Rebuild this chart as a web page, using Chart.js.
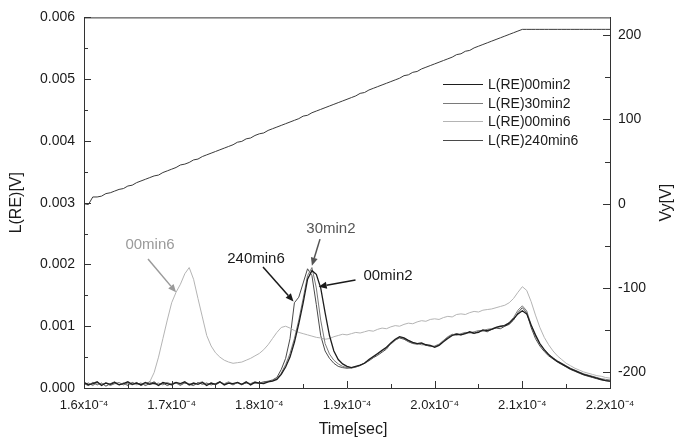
<!DOCTYPE html>
<html>
<head>
<meta charset="utf-8">
<script src="https://cdn.jsdelivr.net/npm/chart.js@4/dist/chart.umd.min.js"></script>
<style>
  html,body{margin:0;padding:0;background:#fff;}
  #wrap{width:676px;height:442px;}
</style>
</head>
<body>
<div id="wrap"><canvas id="c" width="676" height="442"></canvas></div>
<script>
// time axis in units of 1e-4 s
const timeE4 = [
  1.600,1.605,1.610,1.615,1.620,1.625,1.630,1.635,1.640,1.645,
  1.650,1.655,1.660,1.665,1.670,1.675,1.680,1.685,1.690,1.695,
  1.700,1.705,1.710,1.715,1.720,1.725,1.730,1.735,1.740,1.745,
  1.750,1.755,1.760,1.765,1.770,1.775,1.780,1.785,1.790,1.795,
  1.800,1.805,1.810,1.815,1.820,1.825,1.830,1.835,1.840,1.845,
  1.850,1.855,1.860,1.865,1.870,1.875,1.880,1.885,1.890,1.895,
  1.900,1.905,1.910,1.915,1.920,1.925,1.930,1.935,1.940,1.945,
  1.950,1.955,1.960,1.965,1.970,1.975,1.980,1.985,1.990,1.995,
  2.000,2.005,2.010,2.015,2.020,2.025,2.030,2.035,2.040,2.045,
  2.050,2.055,2.060,2.065,2.070,2.075,2.080,2.085,2.090,2.095,
  2.100,2.105,2.110,2.115,2.120,2.125,2.130,2.135,2.140,2.145,
  2.150,2.155,2.160,2.165,2.170,2.175,2.180,2.185,2.190,2.195,
  2.200
];

// L(RE) signals in mV
const l00min2 = [
  0.09,0.05,0.07,0.10,0.04,0.08,0.06,0.09,0.05,0.07,
  0.10,0.06,0.08,0.05,0.09,0.06,0.08,0.04,0.09,0.07,
  0.05,0.09,0.07,0.10,0.05,0.08,0.06,0.09,0.04,0.08,
  0.06,0.10,0.05,0.08,0.07,0.09,0.06,0.10,0.05,0.09,
  0.08,0.07,0.10,0.11,0.14,0.22,0.34,0.50,0.74,1.04,
  1.38,1.76,1.90,1.84,1.62,1.22,0.85,0.60,0.46,0.39,
  0.35,0.33,0.35,0.37,0.40,0.46,0.51,0.56,0.61,0.66,
  0.73,0.79,0.83,0.81,0.77,0.74,0.72,0.73,0.70,0.69,
  0.66,0.69,0.75,0.80,0.85,0.87,0.86,0.88,0.91,0.89,
  0.90,0.94,0.93,0.95,0.98,1.00,1.01,1.05,1.12,1.20,
  1.25,1.20,1.02,0.86,0.72,0.62,0.54,0.48,0.43,0.39,
  0.35,0.31,0.28,0.25,0.22,0.20,0.18,0.16,0.14,0.12,
  0.11
];
const l30min2 = [
  0.05,0.08,0.04,0.09,0.06,0.08,0.04,0.07,0.09,0.05,
  0.08,0.05,0.09,0.04,0.07,0.10,0.06,0.08,0.05,0.09,
  0.06,0.08,0.04,0.09,0.07,0.05,0.08,0.10,0.06,0.08,
  0.05,0.09,0.07,0.10,0.06,0.08,0.05,0.09,0.07,0.08,
  0.07,0.09,0.10,0.12,0.15,0.24,0.38,0.56,0.80,1.10,
  1.45,1.82,1.95,1.62,1.10,0.72,0.55,0.45,0.39,0.35,
  0.33,0.32,0.34,0.36,0.41,0.45,0.50,0.55,0.60,0.65,
  0.71,0.77,0.82,0.80,0.76,0.73,0.72,0.70,0.70,0.67,
  0.68,0.71,0.77,0.83,0.87,0.86,0.88,0.90,0.89,0.91,
  0.93,0.92,0.95,0.96,0.98,0.99,1.02,1.06,1.14,1.26,
  1.33,1.25,1.02,0.84,0.71,0.62,0.55,0.49,0.44,0.40,
  0.36,0.32,0.29,0.26,0.23,0.21,0.19,0.17,0.15,0.14,
  0.13
];
const l00min6 = [
  0.06,0.08,0.05,0.07,0.06,0.08,0.05,0.07,0.06,0.08,
  0.06,0.07,0.05,0.07,0.06,0.10,0.25,0.50,0.80,1.10,
  1.38,1.55,1.68,1.85,1.95,1.76,1.45,1.15,0.85,0.68,
  0.57,0.50,0.45,0.42,0.40,0.41,0.42,0.45,0.48,0.52,
  0.56,0.62,0.70,0.80,0.90,0.98,1.00,0.97,0.93,0.90,
  0.88,0.86,0.84,0.82,0.81,0.79,0.80,0.83,0.85,0.87,
  0.86,0.88,0.90,0.89,0.91,0.93,0.92,0.95,0.97,0.96,
  0.99,1.01,1.00,1.03,1.05,1.04,1.07,1.09,1.08,1.11,
  1.12,1.11,1.14,1.16,1.15,1.19,1.20,1.19,1.22,1.24,
  1.23,1.26,1.27,1.28,1.30,1.32,1.34,1.38,1.45,1.55,
  1.64,1.58,1.40,1.18,0.98,0.82,0.70,0.60,0.52,0.46,
  0.40,0.36,0.32,0.29,0.26,0.24,0.22,0.20,0.19,0.17,
  0.16
];
const l240min6 = [
  0.07,0.04,0.09,0.05,0.08,0.03,0.07,0.10,0.05,0.08,
  0.04,0.09,0.06,0.08,0.04,0.07,0.10,0.05,0.08,0.04,
  0.07,0.09,0.05,0.08,0.06,0.04,0.09,0.06,0.08,0.05,
  0.07,0.10,0.06,0.08,0.05,0.09,0.06,0.08,0.07,0.10,
  0.08,0.10,0.11,0.13,0.17,0.30,0.48,0.80,1.38,1.47,
  1.70,1.93,1.82,1.35,0.85,0.60,0.48,0.40,0.35,0.33,
  0.32,0.33,0.34,0.37,0.40,0.44,0.49,0.53,0.58,0.63,
  0.72,0.78,0.81,0.79,0.75,0.72,0.71,0.72,0.69,0.68,
  0.67,0.70,0.76,0.82,0.86,0.88,0.86,0.89,0.90,0.88,
  0.92,0.93,0.91,0.95,0.97,0.96,1.00,1.03,1.10,1.22,
  1.30,1.22,0.98,0.80,0.68,0.59,0.52,0.47,0.42,0.38,
  0.34,0.30,0.27,0.24,0.21,0.19,0.17,0.15,0.13,0.12,
  0.11
];
// Vy in volts
const vy = [
  0,-1,8,8,9,12,13,15,17,18,
  21,22,25,27,29,31,33,34,37,39,
  41,43,46,47,49,52,53,56,58,60,
  62,64,66,68,70,73,74,77,78,81,
  83,84,87,89,91,93,95,97,99,101,
  104,105,108,110,112,114,116,118,120,122,
  124,126,128,131,132,135,137,139,141,143,
  145,147,149,152,153,156,157,160,162,164,
  166,168,170,172,174,177,178,181,182,185,
  187,189,191,193,195,197,199,201,203,205,
  207,207,207,207,207,207,207,207,207,207,
  207,207,207,207,207,207,207,207,207,207,
  207
];

const seriesNames = ['L(RE)00min2','L(RE)30min2','L(RE)00min6','L(RE)240min6'];
const seriesColors = ['#1e1e1e','#7a7a7a','#b4b4b4','#4a4a4a'];
const seriesValues = [l00min2, l30min2, l00min6, l240min6];

const leftTicksMv = [0,1,2,3,4,5,6];
const rightTicksV = [-200,-100,0,100,200];
const timeTicksE4 = [1.6,1.7,1.8,1.9,2.0,2.1,2.2];

const notes = [
  {text:'00min6',  color:'#9a9a9a', arrow:'#9a9a9a', at:[1.6753,2.31], from:[1.673,2.09], to:[1.705,1.55]},
  {text:'240min6', color:'#1a1a1a', arrow:'#1a1a1a', at:[1.7962,2.09], from:[1.8042,1.96], to:[1.839,1.40]},
  {text:'30min2',  color:'#555555', arrow:'#555555', at:[1.8817,2.57], from:[1.8692,2.41], to:[1.860,1.98]},
  {text:'00min2',  color:'#1a1a1a', arrow:'#1a1a1a', at:[1.9468,1.81], from:[1.9097,1.75], to:[1.8677,1.64]}
];

[...seriesValues, vy].forEach((a,i)=>{ if(a.length!==timeE4.length) throw new Error('length mismatch series '+i+': '+a.length+' vs '+timeE4.length); });

const FONT = '"Liberation Sans", Arial, sans-serif';

const datasets = seriesNames.map((name,i)=>({
  label:name,
  data: timeE4.map((t,k)=>({x:t,y:seriesValues[i][k]})),
  borderColor: seriesColors[i],
  borderWidth: i===0 ? 1.3 : 1,
  pointRadius:0, tension:0, yAxisID:'y'
}));
datasets.push({
  label:'Vy',
  data: timeE4.map((t,k)=>({x:t,y:vy[k]})),
  borderColor:'#3a3a3a', borderWidth:1, pointRadius:0, tension:0, yAxisID:'y2'
});

const decor = {
  id:'decor',
  afterDatasetsDraw(chart){
    const {ctx, chartArea:a, scales} = chart;
    const sx = scales.x, sy = scales.y, sy2 = scales.y2;
    ctx.save();
    ctx.strokeStyle = '#333'; ctx.lineWidth = 1;
    // top frame
    ctx.beginPath(); ctx.moveTo(a.left, a.top+0.5); ctx.lineTo(a.right, a.top+0.5); ctx.stroke();
    const withMinors = (vals)=>{ const out=[]; vals.forEach((v,i)=>{ out.push([v,true]); if(i<vals.length-1) out.push([(v+vals[i+1])/2,false]); }); return out; };
    ctx.beginPath();
    withMinors(timeTicksE4).forEach(([v,maj])=>{ const p=Math.round(sx.getPixelForValue(v))+0.5; ctx.moveTo(p,a.bottom); ctx.lineTo(p,a.bottom-(maj?7:4)); });
    withMinors(leftTicksMv).forEach(([v,maj])=>{ const p=Math.round(sy.getPixelForValue(v))+0.5; ctx.moveTo(a.left,p); ctx.lineTo(a.left+(maj?7:4),p); });
    withMinors(rightTicksV).forEach(([v,maj])=>{ const p=Math.round(sy2.getPixelForValue(v))+0.5; ctx.moveTo(a.right,p); ctx.lineTo(a.right-(maj?7:5),p); });
    ctx.stroke();

    // legend
    ctx.font = '14px '+FONT; ctx.textBaseline='middle'; ctx.textAlign='left';
    seriesNames.forEach((n,i)=>{
      const y = 84 + i*18.7;
      ctx.strokeStyle = seriesColors[i]; ctx.lineWidth = 1.2;
      ctx.beginPath(); ctx.moveTo(443, Math.round(y)+0.5); ctx.lineTo(483, Math.round(y)+0.5); ctx.stroke();
      ctx.fillStyle = '#1a1a1a'; ctx.fillText(n, 488, y+1);
    });

    // annotations
    notes.forEach(n=>{
      const tx = sx.getPixelForValue(n.at[0]), ty = sy.getPixelForValue(n.at[1]);
      const x0 = sx.getPixelForValue(n.from[0]), y0 = sy.getPixelForValue(n.from[1]);
      const x1 = sx.getPixelForValue(n.to[0]), y1 = sy.getPixelForValue(n.to[1]);
      ctx.fillStyle = n.color; ctx.font = '15px '+FONT; ctx.textAlign='center'; ctx.textBaseline='middle';
      ctx.fillText(n.text, tx, ty);
      const ang = Math.atan2(y1-y0, x1-x0), L=8, W=3.5;
      const bx = x1 - L*Math.cos(ang), by = y1 - L*Math.sin(ang);
      ctx.strokeStyle = n.arrow; ctx.lineWidth = 1.5;
      ctx.beginPath(); ctx.moveTo(x0,y0); ctx.lineTo(bx,by); ctx.stroke();
      ctx.fillStyle = n.arrow;
      ctx.beginPath(); ctx.moveTo(x1,y1);
      ctx.lineTo(bx + W*Math.sin(ang), by - W*Math.cos(ang));
      ctx.lineTo(bx - W*Math.sin(ang), by + W*Math.cos(ang));
      ctx.closePath(); ctx.fill();
    });

    // axis titles
    ctx.fillStyle='#1a1a1a'; ctx.font='16px '+FONT; ctx.textAlign='center'; ctx.textBaseline='middle';
    ctx.fillText('Time[sec]', 353, 430);
    ctx.save();
    ctx.translate(667, (a.top+a.bottom)/2);
    ctx.rotate(-Math.PI/2);
    ctx.fillText('Vy[V]',0,0);
    ctx.restore();
    ctx.restore();
  }
};

new Chart(document.getElementById('c'), {
  type:'line',
  data:{datasets},
  options:{
    responsive:false, animation:false, devicePixelRatio:1,
    layout:{padding:{top:14,left:0,right:0,bottom:0}},
    plugins:{legend:{display:false}, tooltip:{enabled:false}},
    scales:{
      x:{
        type:'linear', min:1.6, max:2.2,
        grid:{display:false, drawTicks:false},
        border:{display:true,color:'#333',width:1},
        ticks:{stepSize:0.1, includeBounds:false, padding:10, color:'#1a1a1a', font:{family:FONT,size:13}, maxRotation:0,
          callback:(v)=> v.toFixed(1)+'x10\u207B\u2074'},
        title:{display:false, text:'Time[sec]'},
        afterFit(s){ s.height = 54; }
      },
      y:{
        type:'linear', position:'left', min:0, max:6,
        grid:{display:false, drawTicks:false},
        border:{display:true,color:'#333',width:1},
        ticks:{stepSize:1, includeBounds:false, padding:9, color:'#1a1a1a', font:{family:FONT,size:14},
          callback:(v)=> (v/1000).toFixed(3)},
        title:{display:true, text:'L(RE)[V]', color:'#1a1a1a', font:{family:FONT,size:16}, padding:{top:7,bottom:0}},
        afterFit(s){ s.width = 84; }
      },
      y2:{
        type:'linear', position:'right', min:-218.8, max:221.2,
        grid:{display:false, drawTicks:false},
        border:{display:true,color:'#333',width:1},
        ticks:{stepSize:100, includeBounds:false, padding:8, color:'#1a1a1a', font:{family:FONT,size:14}},
        afterFit(s){ s.width = 66; }
      }
    }
  },
  plugins:[decor]
});
</script>
</body>
</html>
